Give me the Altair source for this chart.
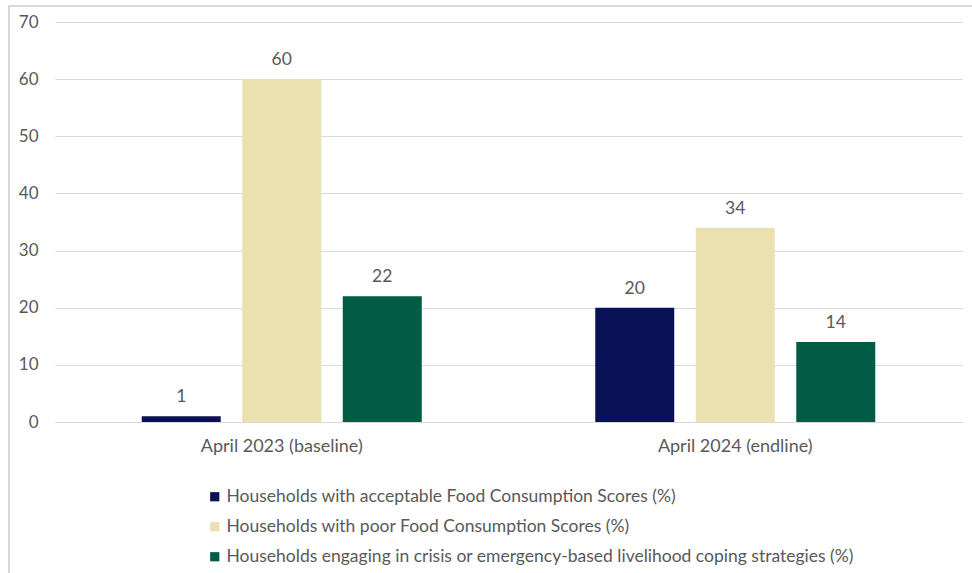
import altair as alt
import pandas as pd

periods = ["April 2023 (baseline)", "April 2024 (endline)"]
series = [
    "Households with acceptable Food Consumption Scores (%)",
    "Households with poor Food Consumption Scores (%)",
    "Households engaging in crisis or emergency-based livelihood coping strategies (%)",
]
acceptable = [1, 20]
poor = [60, 34]
coping = [22, 14]
colors = ["#0b1157", "#ebe0b0", "#005c45"]

rows = []
for i, p in enumerate(periods):
    for s, vals in zip(series, [acceptable, poor, coping]):
        rows.append({"period": p, "series": s, "value": vals[i]})
df = pd.DataFrame(rows)

FONT = "Lato"
GRAY = "#595959"

x_enc = alt.X("period:N", sort=periods, title=None,
              scale=alt.Scale(paddingInner=0, paddingOuter=0),
              axis=alt.Axis(labelAngle=0, ticks=False, domain=True, domainColor="#d9d9d9",
                            labelFont=FONT, labelFontSize=18, labelColor=GRAY, labelPadding=15))
xo_enc = alt.XOffset("series:N", sort=series,
                     scale=alt.Scale(paddingInner=0.214, paddingOuter=0.863))
y_enc = alt.Y("value:Q", title=None,
              scale=alt.Scale(domain=[0, 70], nice=False),
              axis=alt.Axis(values=list(range(0, 71, 10)), ticks=False, domain=False,
                            gridColor="#d9d9d9", gridWidth=1.2,
                            labelFont=FONT, labelFontSize=17, labelColor=GRAY, labelPadding=17))

bars = alt.Chart(df).mark_bar().encode(
    x=x_enc,
    xOffset=xo_enc,
    y=y_enc,
    color=alt.Color("series:N", sort=series, title=None,
                    scale=alt.Scale(domain=series, range=colors),
                    legend=alt.Legend(orient="none", legendX=151, legendY=466, direction="vertical",
                                      symbolType="square", symbolSize=85, symbolStrokeWidth=0,
                                      labelFont=FONT, labelFontSize=17.5, labelColor=GRAY,
                                      labelLimit=900, rowPadding=11, symbolOffset=0, labelOffset=3)),
)

labels = alt.Chart(df).mark_text(baseline="bottom", dy=-10, font=FONT, fontSize=17.5, color=GRAY).encode(
    x=alt.X("period:N", sort=periods),
    xOffset=alt.XOffset("series:N", sort=series),
    y="value:Q",
    text="value:Q",
)

border = alt.Chart(df).mark_rect(fill=None, stroke="#d9d9d9", strokeWidth=2).encode(
    x=alt.value(-46), x2=alt.value(930), y=alt.value(-16), y2=alt.value(580)
)

chart = alt.layer(border, bars, labels).properties(
    width=907, height=400,
    autosize=alt.AutoSizeParams(type="none"),
    padding={"left": 55, "top": 22, "right": 10, "bottom": 151},
    background="white",
).configure_view(stroke=None)

chart.save("out.html", embed_options={"renderer": "svg", "actions": False})
